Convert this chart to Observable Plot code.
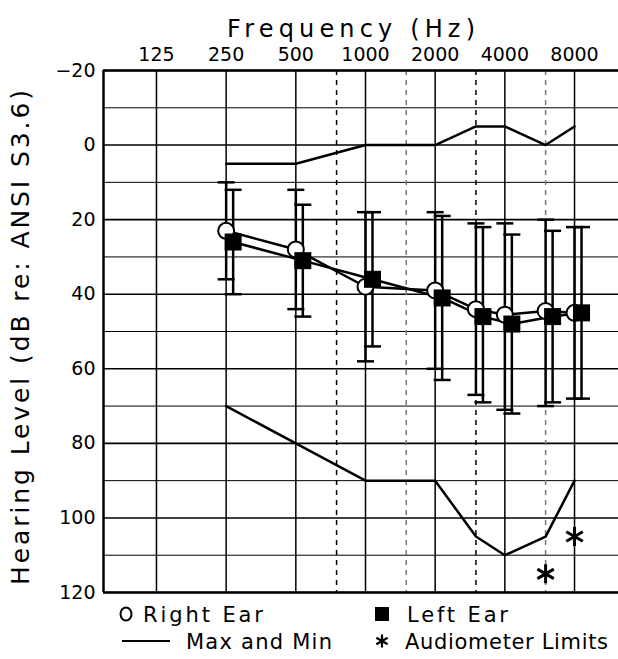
<!DOCTYPE html>
<html><head><meta charset="utf-8">
<script src="https://cdn.jsdelivr.net/npm/d3@7"></script>
<script src="https://cdn.jsdelivr.net/npm/@observablehq/plot@0.6"></script>
<style>
body{margin:0;background:#fff;}
#wrap{position:relative;width:618px;height:659px;font-family:"DejaVu Sans",sans-serif;overflow:hidden;}
#wrap svg.plot{display:block;position:absolute;left:0;top:0;}
#legend{position:absolute;left:0;top:592px;}
</style></head><body><div id="wrap"></div>
<script>
// ---- data ----
const freqs     = [250, 500, 1000, 2000, 3000, 4000, 6000, 8000];
const rightEar  = [23, 28, 38, 39, 44, 45.5, 44.5, 45];
const rightTop  = [10, 12, 18, 18, 21, 21, 20, 22];
const rightBot  = [36, 44, 58, 60, 67, 71, 70, 68];
const leftEar   = [26, 31, 36, 41, 46, 48, 46, 45];
const leftTop   = [12, 16, 18, 19, 22, 24, 23, 22];
const leftBot   = [40, 46, 54, 63, 69, 72, 69, 68];
const minLevel  = [5, 5, 0, 0, -5, -5, 0, -5];
const maxLevel  = [70, 80, 90, 90, 105, 110, 105, 90];
const limitFreqs  = [6000, 8000];
const limitLevels = [115, 105];
const octaveTicks = [125, 250, 500, 1000, 2000, 4000, 8000];
const halfOctaves = [750, 1500, 3000, 6000];
const dbTicks = [-20, 0, 20, 40, 60, 80, 100, 120];
const dbMinor = [-10, 10, 30, 50, 70, 90, 110];
const xTitle = "Frequency (Hz)";
const yTitle = "Hearing Level (dB re: ANSI S3.6)";
const legendLabels = ["Right Ear", "Left Ear", "Max and Min", "Audiometer Limits"];

const rows = freqs.map((f, i) => ({
  f, r: rightEar[i], rTop: rightTop[i], rBot: rightBot[i],
  l: leftEar[i], lTop: leftTop[i], lBot: leftBot[i],
  mn: minLevel[i], mx: maxLevel[i]
}));
const limits = limitFreqs.map((f, i) => ({f, v: limitLevels[i]}));

const hbar = {draw(ctx, size) { const w = Math.sqrt(size / Math.PI); ctx.moveTo(-w, 0); ctx.lineTo(w, 0); }};
const xDomain = [73.8, 12390];
const OFF = 7; // left-ear horizontal offset (px)
const fmtDb = d => d < 0 ? "\u2212" + (-d) : String(d);

const plot = Plot.plot({
  width: 618, height: 600,
  marginTop: 70, marginBottom: 8, marginLeft: 103, marginRight: 0,
  style: {fontFamily: "DejaVu Sans, sans-serif", fontSize: "19px", background: "white", color: "black", overflow: "visible"},
  x: {type: "log", domain: xDomain, axis: null},
  y: {domain: [-20, 120], reverse: true, axis: null},
  marks: [
    Plot.ruleY(dbMinor, {stroke: "black", strokeWidth: 1}),
    Plot.ruleY(dbTicks, {stroke: "black", strokeWidth: 1.6}),
    Plot.ruleX(octaveTicks, {stroke: "black", strokeWidth: 1.5}),
    Plot.ruleX(halfOctaves, {stroke: d => (d === 750 || d === 3000) ? "#000" : "#777", strokeWidth: 1.5, strokeDasharray: "5,5"}),
    Plot.ruleY([-20, 120], {stroke: "black", strokeWidth: 2.5}),
    Plot.ruleX([xDomain[0]], {stroke: "black", strokeWidth: 2.5}),
    // tick labels
    Plot.text(octaveTicks, {x: d => d, frameAnchor: "top", dy: -10, lineAnchor: "bottom", text: d => String(d), fontSize: 19}),
    Plot.text(dbTicks, {y: d => d, frameAnchor: "left", dx: -8, textAnchor: "end", text: fmtDb, fontSize: 19}),
    // titles
    Plot.text([xTitle], {frameAnchor: "top", dx: -10, dy: -51, fontSize: 24, text: d => d}),
    Plot.text([yTitle], {frameAnchor: "left", textAnchor: "middle", dx: -83, dy: 6, rotate: -90, fontSize: 25, text: d => d}),
    // max/min lines
    Plot.line(rows, {x: "f", y: "mn", stroke: "black", strokeWidth: 2.5}),
    Plot.line(rows, {x: "f", y: "mx", stroke: "black", strokeWidth: 2.5}),
    // error bars
    Plot.ruleX(rows, {x: "f", y1: "rTop", y2: "rBot", stroke: "black", strokeWidth: 2.5}),
    Plot.dot(rows, {x: "f", y: "rTop", symbol: hbar, r: 8.5, stroke: "black", strokeWidth: 2.5}),
    Plot.dot(rows, {x: "f", y: "rBot", symbol: hbar, r: 8.5, stroke: "black", strokeWidth: 2.5}),
    Plot.ruleX(rows, {x: "f", y1: "lTop", y2: "lBot", dx: OFF, stroke: "black", strokeWidth: 2.5}),
    Plot.dot(rows, {x: "f", y: "lTop", dx: OFF, symbol: hbar, r: 8.5, stroke: "black", strokeWidth: 2.5}),
    Plot.dot(rows, {x: "f", y: "lBot", dx: OFF, symbol: hbar, r: 8.5, stroke: "black", strokeWidth: 2.5}),
    // ear lines and symbols
    Plot.line(rows, {x: "f", y: "r", stroke: "black", strokeWidth: 2.5}),
    Plot.line(rows, {x: "f", y: "l", dx: OFF, stroke: "black", strokeWidth: 2.5}),
    Plot.dot(rows, {x: "f", y: "r", r: 8, fill: "white", stroke: "black", strokeWidth: 2}),
    Plot.dot(rows, {x: "f", y: "l", dx: OFF, symbol: "square", r: 9.6, fill: "black", stroke: "none"}),
    // audiometer limits
    Plot.dot(limits, {x: "f", y: "v", symbol: "asterisk", r: 9, stroke: "black", strokeWidth: 3})
  ]
});
plot.classList.add("plot");
const wrap = document.getElementById("wrap");
wrap.appendChild(plot);

// stretch titles to the reference's wide lettering
const titleWidths = new Map([[xTitle, 248], [yTitle, 495]]);
d3.select(plot).selectAll("text").each(function() {
  const w = titleWidths.get(this.textContent);
  if (w) { this.setAttribute("textLength", w); this.setAttribute("lengthAdjust", "spacing"); }
});

// ---- legend (below the plot) ----
const leg = d3.select(wrap).append("svg").attr("id", "legend")
  .attr("width", 618).attr("height", 67)
  .style("font-family", "DejaVu Sans, sans-serif").style("font-size", "21px");
const base1 = 30, base2 = 57; // baselines relative to legend top (592)
const items = [
  {label: legendLabels[0], x: 143, w: 120, base: base1},
  {label: legendLabels[1], x: 407, w: 101, base: base1},
  {label: legendLabels[2], x: 186, w: 146, base: base2},
  {label: legendLabels[3], x: 405, w: 203, base: base2}
];
leg.selectAll("text").data(items).join("text")
  .attr("x", d => d.x).attr("y", d => d.base)
  .attr("textLength", d => d.w).attr("lengthAdjust", "spacing")
  .text(d => d.label);
leg.append("ellipse").attr("cx", 126).attr("cy", 22).attr("rx", 5.5).attr("ry", 6.5)
  .attr("fill", "none").attr("stroke", "black").attr("stroke-width", 2);
leg.append("rect").attr("x", 375).attr("y", 15).attr("width", 14).attr("height", 14).attr("fill", "black");
leg.append("line").attr("x1", 122).attr("x2", 170).attr("y1", 49).attr("y2", 49)
  .attr("stroke", "black").attr("stroke-width", 2);
leg.append("path").attr("transform", "translate(382,49)")
  .attr("d", d3.symbol(d3.symbolAsterisk, 120)())
  .attr("stroke", "black").attr("stroke-width", 2.2).attr("fill", "none");
</script>
</body></html>
